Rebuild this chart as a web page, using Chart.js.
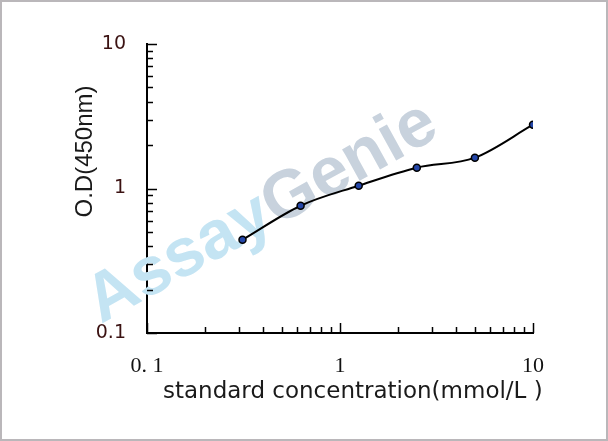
<!DOCTYPE html>
<html>
<head>
<meta charset="utf-8">
<script src="https://cdn.jsdelivr.net/npm/chart.js@4.4.1/dist/chart.umd.min.js"></script>
<style>
    html, body { margin: 0; padding: 0; background: #fff; }
    #wrap { width: 608px; height: 441px; }
</style>
</head>
<body>
<div id="wrap"><canvas id="stdCurve" width="608" height="441"></canvas></div>
<script>
// standard curve data (log-log)
var concentrations = [0.3125, 0.625, 1.25, 2.5, 5, 10];
var odValues = [0.442, 0.760, 1.046, 1.393, 1.634, 2.764];

var xTickValues = [0.1, 1, 10];
var xTickLabels = ['0. 1', '1', '10'];
var yTickValues = [0.1, 1, 10];
var yTickLabels = ['0.1', '1', '10'];
var minorSteps = [2, 3, 4, 5, 6, 7, 8, 9];

var xTitle = 'standard concentration(mmol/L )';
var yTitle = 'O.D(450nm)';
var watermarkParts = ['Assay', 'Genie'];

function labelFor(values, labels) {
    return function (v) {
        var i = values.indexOf(v);
        return i >= 0 ? labels[i] : '';
    };
}

// grey frame round the picture
var framePlugin = {
    id: 'frame',
    afterDraw: function (chart) {
        var ctx = chart.ctx;
        ctx.save();
        ctx.strokeStyle = '#bab7ba';
        ctx.lineWidth = 4;
        ctx.strokeRect(0, 0, chart.width, chart.height);
        ctx.restore();
    }
};

var watermarkPlugin = {
    id: 'watermark',
    beforeDatasetsDraw: function (chart) {
        var ctx = chart.ctx;
        ctx.save();
        ctx.translate(101, 324);
        ctx.rotate(-29 * Math.PI / 180);
        ctx.font = 'bold 68px "Liberation Sans"';
        ctx.textBaseline = 'alphabetic';
        ctx.fillStyle = '#c4e4f3';
        ctx.fillText(watermarkParts[0], 0, 0);
        var w = ctx.measureText(watermarkParts[0]).width;
        ctx.fillStyle = '#c8d2dd';
        ctx.fillText(watermarkParts[1], w, 0);
        ctx.restore();
    }
};

// inward ticks, major and minor, on both log axes
var axisTicksPlugin = {
    id: 'axisTicks',
    afterDraw: function (chart) {
        var ctx = chart.ctx;
        var area = chart.chartArea;
        var xs = chart.scales.x, ys = chart.scales.y;
        ctx.save();
        ctx.strokeStyle = '#000';
        ctx.lineWidth = 1.5;

        function yTick(v, len) {
            var py = Math.round(ys.getPixelForValue(v)) + 0.5;
            ctx.beginPath();
            ctx.moveTo(area.left, py);
            ctx.lineTo(area.left + len, py);
            ctx.stroke();
        }
        function xTick(v, len) {
            var px = Math.round(xs.getPixelForValue(v)) + 0.5;
            ctx.beginPath();
            ctx.moveTo(px, area.bottom);
            ctx.lineTo(px, area.bottom - len);
            ctx.stroke();
        }

        yTickValues.forEach(function (v, i) {
            yTick(v, 10);
            if (i < yTickValues.length - 1) {
                minorSteps.forEach(function (m) { yTick(v * m, 6); });
            }
        });
        xTickValues.forEach(function (v, i) {
            xTick(v, 10);
            if (i < xTickValues.length - 1) {
                minorSteps.forEach(function (m) { xTick(v * m, 6); });
            }
        });
        ctx.restore();
    }
};

var axisTitlesPlugin = {
    id: 'axisTitles',
    afterDraw: function (chart) {
        var ctx = chart.ctx;
        var area = chart.chartArea;
        ctx.save();
        ctx.fillStyle = '#1a1a1a';
        ctx.textBaseline = 'alphabetic';

        ctx.font = '23px "DejaVu Sans"';
        ctx.textAlign = 'left';
        ctx.fillText(xTitle, area.left + 16, area.bottom + 65);

        ctx.font = '24px "Liberation Sans"';
        ctx.textAlign = 'center';
        ctx.translate(area.left - 55, (area.top + area.bottom) / 2 - 37);
        ctx.rotate(-Math.PI / 2);
        ctx.fillText(yTitle, 0, 0);
        ctx.restore();
    }
};

var ctx = document.getElementById('stdCurve');

new Chart(ctx, {
    type: 'line',
    data: {
        labels: concentrations,
        datasets: [{
            data: concentrations.map(function (c, i) { return {x: c, y: odValues[i]}; }),
            borderColor: '#000',
            borderWidth: 2,
            cubicInterpolationMode: 'monotone',
            pointRadius: 3.5,
            pointBackgroundColor: '#2446a8',
            pointBorderColor: '#000',
            pointBorderWidth: 1.5,
            fill: false
        }]
    },
    options: {
        responsive: false,
        animation: false,
        events: [],
        layout: {
            padding: {left: 0, right: 75, top: 44, bottom: 0}
        },
        plugins: {
            legend: {display: false},
            tooltip: {enabled: false}
        },
        scales: {
            x: {
                type: 'logarithmic',
                min: 0.1,
                max: 10,
                grid: {display: false, drawTicks: false},
                border: {display: true, color: '#000', width: 2},
                afterBuildTicks: function (scale) {
                    scale.ticks = xTickValues.map(function (v) { return {value: v}; });
                },
                afterFit: function (scale) {
                    scale.height = 108;
                    scale.paddingLeft = 0;
                    scale.paddingRight = 0;
                },
                ticks: {
                    autoSkip: false,
                    maxRotation: 0,
                    padding: 20,
                    color: '#111',
                    font: {family: 'Liberation Serif', size: 22},
                    callback: labelFor(xTickValues, xTickLabels)
                }
            },
            y: {
                type: 'logarithmic',
                min: 0.1,
                max: 10,
                grid: {display: false, drawTicks: false},
                border: {display: true, color: '#000', width: 2},
                afterBuildTicks: function (scale) {
                    scale.ticks = yTickValues.map(function (v) { return {value: v}; });
                },
                afterFit: function (scale) {
                    scale.width = 147;
                    scale.paddingTop = 0;
                    scale.paddingBottom = 0;
                },
                ticks: {
                    autoSkip: false,
                    padding: 21,
                    color: '#3b1212',
                    font: {family: 'DejaVu Sans', size: 19},
                    callback: labelFor(yTickValues, yTickLabels)
                }
            }
        }
    },
    plugins: [watermarkPlugin, axisTicksPlugin, axisTitlesPlugin, framePlugin]
});
</script>
</body>
</html>
